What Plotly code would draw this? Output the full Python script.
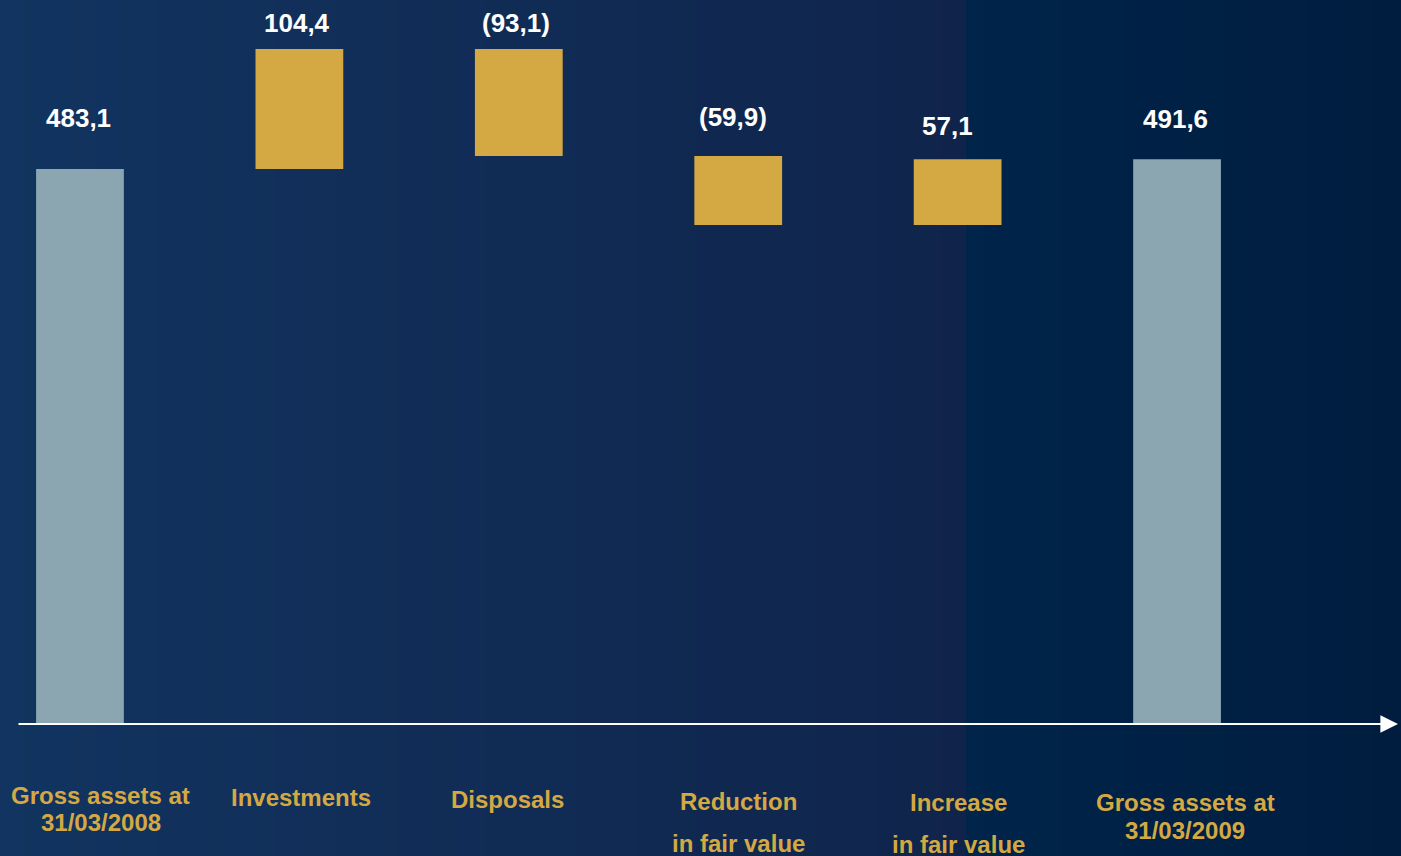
import plotly.graph_objects as go

categories = ["Gross assets at 31/03/2008", "Investments", "Disposals",
              "Reduction in fair value", "Increase in fair value", "Gross assets at 31/03/2009"]
values = [483.1, 104.4, -93.1, -59.9, 57.1, 491.6]
measures = ["absolute", "relative", "relative", "relative", "relative", "total"]
value_labels = ["483,1", "104,4", "(93,1)", "(59,9)", "57,1", "491,6"]
cat_lines = [["Gross assets at", "31/03/2008"], ["Investments"], ["Disposals"],
             ["Reduction", "in fair value"], ["Increase", "in fair value"],
             ["Gross assets at", "31/03/2009"]]

W, H = 1401, 856
ML, MR, MT, MB = 17, 3, 0, 132
PW, PH = W - ML - MR, H - MT - MB

GOLD = "#D4A843"
GREY = "#8BA6B1"
FONT = "Liberation Sans, Arial, sans-serif"

x = list(range(len(categories)))

fig = go.Figure(go.Waterfall(
    x=x, y=values, measure=measures,
    increasing=dict(marker=dict(color=GOLD)),
    decreasing=dict(marker=dict(color=GOLD)),
    totals=dict(marker=dict(color=GREY)),
    connector=dict(visible=False),
    width=0.40, hoverinfo="skip",
))

# bar tops (from cumulative values)
tops = []
run = 0
for v, m in zip(values, measures):
    if m == "absolute":
        run = v; tops.append(run)
    elif m == "total":
        tops.append(run)
    else:
        prev = run; run += v; tops.append(max(prev, run))

label_dy = [51, 26, 26, 39, 33, 40]
label_dx = [-1, -2, -3, -5, -10, -2]
for i, (t, lab) in enumerate(zip(tops, value_labels)):
    fig.add_annotation(x=i, y=t, text=f"<b>{lab}</b>", showarrow=False,
                       xshift=label_dx[i], yshift=label_dy[i], yanchor="middle",
                       font=dict(family=FONT, size=26, color="white"))

# category labels (pixel y centres of each line)
cat_dx = [21, 2, -11, 0, 1, 8]
cat_py = [[795, 822], [798], [799], [801, 843], [802, 844], [802, 830]]
for i, lines in enumerate(cat_lines):
    for line, py in zip(lines, cat_py[i]):
        fig.add_annotation(x=i, xref="x", y=(PH - (py - MT)) / PH, yref="paper",
                           text=f"<b>{line}</b>", showarrow=False, xshift=cat_dx[i],
                           yanchor="middle", font=dict(family=FONT, size=24, color=GOLD))

# axis arrow along the bottom of the plot area
fig.add_annotation(x=1.0, y=0, xref="paper", yref="paper", ax=-PW, ay=0,
                   axref="pixel", ayref="pixel", showarrow=True, arrowhead=2,
                   arrowsize=1.6, arrowwidth=2.2, arrowcolor="white", text="")

# background gradient
def lerp(c1, c2, t):
    return "rgb(%d,%d,%d)" % tuple(round(a + (b - a) * t) for a, b in zip(c1, c2))

shapes = []
step = 6
split = 962
for px in range(0, W, step):
    if px < split:
        col = lerp((0x11, 0x34, 0x60), (0x10, 0x24, 0x4B), px / split)
    else:
        col = lerp((0x00, 0x24, 0x4A), (0x00, 0x1D, 0x3F), (px - split) / (W - split))
    x0 = (px - ML) / PW
    x1 = (min(px + step, W) + 1 - ML) / PW
    shapes.append(dict(type="rect", xref="paper", yref="paper", x0=x0, x1=x1,
                       y0=-(MB + 5) / PH, y1=1 + 5 / PH, fillcolor=col,
                       line=dict(width=0), layer="below"))

fig.update_layout(
    width=W, height=H, margin=dict(l=ML, r=MR, t=MT, b=MB),
    paper_bgcolor="#0E2A52", plot_bgcolor="rgba(0,0,0,0)",
    showlegend=False, shapes=shapes,
    xaxis=dict(range=[-0.287, 6.007], visible=False, fixedrange=True),
    yaxis=dict(range=[1, PH / 1.151 + 1], visible=False, fixedrange=True),
)

fig.write_html("out.html", config={"displayModeBar": False},
               post_script="document.body.style.margin='0';document.body.style.overflow='hidden';")
